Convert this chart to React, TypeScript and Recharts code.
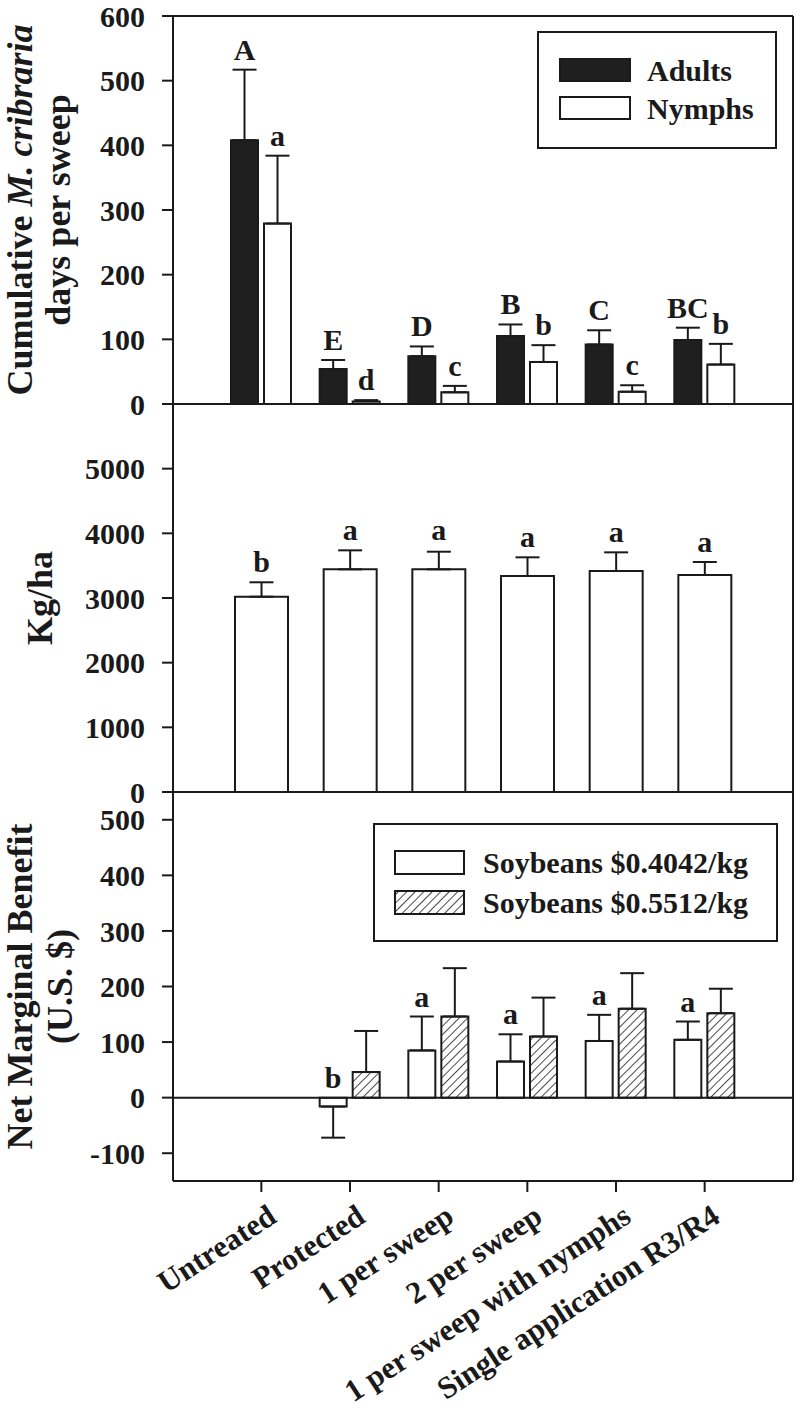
import React from 'react';
import { BarChart, Bar, XAxis, YAxis, ErrorBar, ReferenceLine, Legend, Label } from 'recharts';

const TREATMENTS = [
  'Untreated',
  'Protected',
  '1 per sweep',
  '2 per sweep',
  '1 per sweep with nymphs',
  'Single application R3/R4',
];

// top panel: cumulative M. cribraria days per sweep
const ADULTS = [408, 54, 74, 105, 92, 99];
const ADULTS_SE = [109, 14, 15, 18, 22, 19];
const ADULTS_LETTERS = ['A', 'E', 'D', 'B', 'C', 'BC'];
const NYMPHS = [279, 4, 18, 65, 19, 61];
const NYMPHS_SE = [105, 2, 10, 26, 10, 32];
const NYMPHS_LETTERS = ['a', 'd', 'c', 'b', 'c', 'b'];
const INSECT_TICKS = [0, 100, 200, 300, 400, 500, 600];

// middle panel: yield
const YIELD = [3020, 3443, 3443, 3340, 3418, 3356];
const YIELD_SE = [223, 294, 273, 289, 288, 201];
const YIELD_LETTERS = ['b', 'a', 'a', 'a', 'a', 'a'];
const YIELD_TICKS = [0, 1000, 2000, 3000, 4000, 5000];

// bottom panel: net marginal benefit at two soybean prices
const LOW_PRICE = [null, -16, 85, 65, 102, 104];
const LOW_PRICE_SE = [0, 56, 61, 49, 47, 33];
const LOW_PRICE_LETTERS = ['', 'b', 'a', 'a', 'a', 'a'];
const HIGH_PRICE = [null, 46, 146, 110, 160, 152];
const HIGH_PRICE_SE = [0, 74, 87, 70, 64, 44];
const BENEFIT_TICKS = [-100, 0, 100, 200, 300, 400, 500];

const INK = '#1a1a1a';
const FONT = '"Liberation Serif", "Times New Roman", serif';
const W = 800;
const H = 1413;

// error bars point away from zero: [below, above]
const oneSided = (v: number | null, se: number) => (v == null ? null : v < 0 ? [se, 0] : [0, se]);

const insectRows = TREATMENTS.map((name, i) => ({
  name,
  adults: ADULTS[i],
  adultsErr: oneSided(ADULTS[i], ADULTS_SE[i]),
  nymphs: NYMPHS[i],
  nymphsErr: oneSided(NYMPHS[i], NYMPHS_SE[i]),
}));

const yieldRows = TREATMENTS.map((name, i) => ({
  name,
  kg: YIELD[i],
  kgErr: oneSided(YIELD[i], YIELD_SE[i]),
}));

const benefitRows = TREATMENTS.map((name, i) => ({
  name,
  low: LOW_PRICE[i],
  lowErr: oneSided(LOW_PRICE[i], LOW_PRICE_SE[i]),
  high: HIGH_PRICE[i],
  highErr: oneSided(HIGH_PRICE[i], HIGH_PRICE_SE[i]),
}));

const textStyle = { fontFamily: FONT, fontWeight: 'bold' as const, fill: INK };
const tickStyle = { ...textStyle, fontSize: 30 };

// significance letter sitting above the error bar (or above zero for negative bars)
function letterLabel(letters: string[], values: (number | null)[], ses: number[]) {
  return (props: any) => {
    const { x, y, width, height } = props;
    // bars with no value are skipped, so find the row by name rather than by index
    let i = TREATMENTS.indexOf(props.payload?.name);
    if (i < 0) i = values.indexOf(props.value);
    if (i < 0) return null;
    const v = values[i];
    const letter = letters[i];
    if (v == null || !letter) return null;
    const top = Math.min(y, y + height);
    const px = v === 0 ? 0 : Math.abs(height) / Math.abs(v);
    const base = v >= 0 ? top - ses[i] * px : top;
    return (
      <text x={x + width / 2} y={base - 10} textAnchor="middle" fontSize={30} style={textStyle}>
        {letter}
      </text>
    );
  };
}

function axisTitle(lines: React.ReactNode[], baselines: number[]) {
  return (props: any) => {
    const { x, y, height } = props.viewBox;
    const cy = y + height / 2;
    return (
      <g>
        {lines.map((line, i) => (
          <text
            key={i}
            x={x + baselines[i]}
            y={cy}
            transform={`rotate(-90 ${x + baselines[i]} ${cy})`}
            textAnchor="middle"
            fontSize={36}
            style={textStyle}
          >
            {line}
          </text>
        ))}
      </g>
    );
  };
}

const TreatmentTick = (props: any) => {
  const { x, y, payload } = props;
  return (
    <g transform={`translate(${x + 17},${y + 27})`}>
      <text textAnchor="end" transform="rotate(-33)" fontSize={31} style={textStyle}>
        {payload.value}
      </text>
    </g>
  );
};

const HatchDef = ({ id }: { id: string }) => (
  <pattern id={id} patternUnits="userSpaceOnUse" width={6} height={6} patternTransform="rotate(45)">
    <rect width={6} height={6} fill="#fff" />
    <line x1={0} y1={0} x2={0} y2={6} stroke={INK} strokeWidth={1.6} />
  </pattern>
);

const InsectLegend = () => (
  <svg width={240} height={118}>
    <rect x={1} y={1} width={238} height={116} fill="#fff" stroke={INK} strokeWidth={2} />
    <rect x={23} y={28} width={70} height={22} fill="#1f1f1f" stroke={INK} strokeWidth={2} />
    <text x={110} y={50} fontSize={30} style={textStyle}>Adults</text>
    <rect x={23} y={66} width={70} height={22} fill="#fff" stroke={INK} strokeWidth={2} />
    <text x={110} y={88} fontSize={30} style={textStyle}>Nymphs</text>
  </svg>
);

const PriceLegend = () => (
  <svg width={405} height={119}>
    <defs>
      <HatchDef id="hatchLegend" />
    </defs>
    <rect x={1} y={1} width={403} height={117} fill="#fff" stroke={INK} strokeWidth={2} />
    <rect x={22} y={28} width={69} height={23} fill="#fff" stroke={INK} strokeWidth={2} />
    <text x={110} y={50} fontSize={30} style={textStyle}>Soybeans $0.4042/kg</text>
    <rect x={22} y={68} width={69} height={23} fill="url(#hatchLegend)" stroke={INK} strokeWidth={2} />
    <text x={110} y={90} fontSize={30} style={textStyle}>Soybeans $0.5512/kg</text>
  </svg>
);

const layer: React.CSSProperties = { position: 'absolute', left: 0, top: 0 };
const axisLine = { stroke: INK, strokeWidth: 2 };

export default function App() {
  return (
    <div style={{ position: 'absolute', left: 0, top: 0, width: W, height: H, background: '#fff' }}>
      {/* top panel */}
      <div style={layer}>
        <BarChart width={W} height={H} data={insectRows} margin={{ top: 15, right: 6, left: 0, bottom: 989 }} barGap={6}>
          <XAxis dataKey="name" height={20} padding={{ left: 44, right: 44 }} tick={false} tickSize={11} axisLine={axisLine} tickLine={axisLine} interval={0} />
          <XAxis xAxisId="top" orientation="top" dataKey="name" height={1} tick={false} tickLine={false} axisLine={axisLine} />
          <YAxis width={173} domain={[0, 600]} ticks={INSECT_TICKS} interval={0} tickSize={11} tickMargin={17} tick={tickStyle} axisLine={axisLine} tickLine={axisLine}>
            <Label content={axisTitle([<>Cumulative <tspan fontStyle="italic">M. cribraria</tspan></>, 'days per sweep'], [32, 70])} />
          </YAxis>
          <YAxis yAxisId="right" orientation="right" width={1} domain={[0, 1]} tick={false} tickLine={false} axisLine={axisLine} />
          <Bar dataKey="adults" fill="#1f1f1f" stroke={INK} strokeWidth={2} barSize={27} isAnimationActive={false} label={letterLabel(ADULTS_LETTERS, ADULTS, ADULTS_SE)}>
            <ErrorBar dataKey="adultsErr" width={12} stroke={INK} strokeWidth={2} isAnimationActive={false} />
          </Bar>
          <Bar dataKey="nymphs" fill="#fff" stroke={INK} strokeWidth={2} barSize={27} isAnimationActive={false} label={letterLabel(NYMPHS_LETTERS, NYMPHS, NYMPHS_SE)}>
            <ErrorBar dataKey="nymphsErr" width={12} stroke={INK} strokeWidth={2} isAnimationActive={false} />
          </Bar>
          <Legend layout="vertical" align="center" verticalAlign="middle" wrapperStyle={{ left: 537, top: 31, width: 240, height: 118 }} content={() => <InsectLegend />} />
        </BarChart>
      </div>

      {/* middle panel */}
      <div style={layer}>
        <BarChart width={W} height={H} data={yieldRows} margin={{ top: 404, right: 6, left: 0, bottom: 601 }}>
          <XAxis dataKey="name" height={20} padding={{ left: 44, right: 44 }} tick={false} tickSize={11} axisLine={axisLine} tickLine={axisLine} interval={0} />
          <YAxis width={173} domain={[0, 6000]} ticks={YIELD_TICKS} interval={0} tickSize={11} tickMargin={17} tick={tickStyle} axisLine={axisLine} tickLine={axisLine}>
            <Label content={axisTitle(['Kg/ha'], [52])} />
          </YAxis>
          <YAxis yAxisId="right" orientation="right" width={1} domain={[0, 1]} tick={false} tickLine={false} axisLine={axisLine} />
          <Bar dataKey="kg" fill="#fff" stroke={INK} strokeWidth={2} barSize={53} isAnimationActive={false} label={letterLabel(YIELD_LETTERS, YIELD, YIELD_SE)}>
            <ErrorBar dataKey="kgErr" width={12} stroke={INK} strokeWidth={2} isAnimationActive={false} />
          </Bar>
        </BarChart>
      </div>

      {/* bottom panel */}
      <div style={layer}>
        <BarChart width={W} height={H} data={benefitRows} margin={{ top: 792, right: 6, left: 0, bottom: 0 }} barGap={6}>
          <defs>
            <HatchDef id="hatch" />
          </defs>
          <XAxis dataKey="name" height={232} padding={{ left: 44, right: 44 }} tick={<TreatmentTick />} tickSize={11} axisLine={axisLine} tickLine={axisLine} interval={0} />
          <YAxis width={173} domain={[-150, 550]} ticks={BENEFIT_TICKS} interval={0} tickSize={11} tickMargin={17} tick={tickStyle} axisLine={axisLine} tickLine={axisLine}>
            <Label content={axisTitle(['Net Marginal Benefit', '(U.S. $)'], [32, 72])} />
          </YAxis>
          <YAxis yAxisId="right" orientation="right" width={1} domain={[0, 1]} tick={false} tickLine={false} axisLine={axisLine} />
          <ReferenceLine y={0} stroke={INK} strokeWidth={2} />
          <Bar dataKey="low" fill="#fff" stroke={INK} strokeWidth={2} barSize={27} isAnimationActive={false} label={letterLabel(LOW_PRICE_LETTERS, LOW_PRICE, LOW_PRICE_SE)}>
            <ErrorBar dataKey="lowErr" width={12} stroke={INK} strokeWidth={2} isAnimationActive={false} />
          </Bar>
          <Bar dataKey="high" fill="url(#hatch)" stroke={INK} strokeWidth={2} barSize={27} isAnimationActive={false}>
            <ErrorBar dataKey="highErr" width={12} stroke={INK} strokeWidth={2} isAnimationActive={false} />
          </Bar>
          <Legend layout="vertical" align="center" verticalAlign="middle" wrapperStyle={{ left: 373, top: 823, width: 405, height: 119 }} content={() => <PriceLegend />} />
        </BarChart>
      </div>
    </div>
  );
}
